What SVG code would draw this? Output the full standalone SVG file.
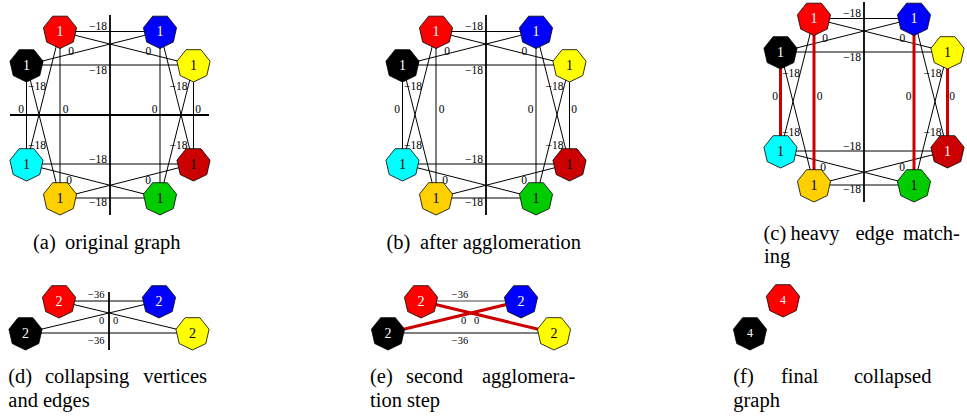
<svg xmlns="http://www.w3.org/2000/svg" xmlns:xlink="http://www.w3.org/1999/xlink" width="967" height="417" viewBox="0 0 967 417">
<style>
.e line{stroke:#000;stroke-width:1;fill:none}
.e line.ax{stroke-width:1.8}
.e line.hv{stroke:#cc0000;stroke-width:3}
.n use{stroke:#000;stroke-width:0.8}
.n text{font-family:"Liberation Serif","Times New Roman",serif;font-size:14px;text-anchor:middle}
.n text.w{fill:#fff}
.n text.k{fill:#000}
.n text.s{font-size:12px}
.lb text{font-family:"Liberation Serif","Times New Roman",serif;font-size:11.5px;fill:#000}
.lb text.m{text-anchor:middle}
.lb text.r{text-anchor:end}
.lb text.d{font-size:10.5px}
.cap{font-family:"Liberation Serif","Times New Roman",serif;font-size:20.5px;fill:#000}
</style>
<defs>
<polygon id="hept" points="0,17 -13.29,10.6 -16.57,-3.78 -7.38,-15.32 7.38,-15.32 16.57,-3.78 13.29,10.6"/>
</defs>

<!-- Panel (a) -->
<g id="panel-a">
<g id="edges-a" class="e">
<line class="ax" x1="110" y1="15" x2="110" y2="215"/>
<line class="ax" x1="10" y1="115" x2="209" y2="115"/>
<line x1="60" y1="31.5" x2="160" y2="31.5"/>
<line x1="26.5" y1="65" x2="193.5" y2="65"/>
<line x1="26.5" y1="164" x2="193.5" y2="164"/>
<line x1="60" y1="198" x2="160" y2="198"/>
<line x1="60" y1="31.5" x2="193.5" y2="65"/>
<line x1="160" y1="31.5" x2="26.5" y2="65"/>
<line x1="26.5" y1="164" x2="160" y2="198"/>
<line x1="60" y1="198" x2="193.5" y2="164"/>
<line x1="26.5" y1="65" x2="26.5" y2="164"/>
<line x1="60" y1="31.5" x2="60" y2="198"/>
<line x1="160" y1="31.5" x2="160" y2="198"/>
<line x1="193.5" y1="65" x2="193.5" y2="164"/>
<line x1="60" y1="31.5" x2="26.5" y2="164"/>
<line x1="26.5" y1="65" x2="60" y2="198"/>
<line x1="160" y1="31.5" x2="193.5" y2="164"/>
<line x1="193.5" y1="65" x2="160" y2="198"/>
</g>
<g id="labels-a" class="lb">
<text class="r" x="107" y="30">−18</text>
<text class="r" x="107" y="74">−18</text>
<text class="r" x="107" y="163">−18</text>
<text class="r" x="107" y="206">−18</text>
<text x="28" y="90">−18</text>
<text x="28" y="149">−18</text>
<text x="169.5" y="90">−18</text>
<text x="169.5" y="149">−18</text>
<text class="m" x="71" y="55">0</text>
<text class="m" x="148.3" y="55">0</text>
<text class="m" x="69" y="184">0</text>
<text class="m" x="148" y="184">0</text>
<text class="m" x="21" y="113">0</text>
<text class="m" x="65.5" y="113">0</text>
<text class="m" x="154.5" y="113">0</text>
<text class="m" x="198" y="113">0</text>
</g>
<g id="a-red" class="n"><use xlink:href="#hept" href="#hept" x="60" y="31.5" fill="#ff0000"/><text class="w" x="60" y="36.2">1</text></g>
<g id="a-blue" class="n"><use xlink:href="#hept" href="#hept" x="160" y="31.5" fill="#0000ff"/><text class="w" x="160" y="36.2">1</text></g>
<g id="a-black" class="n"><use xlink:href="#hept" href="#hept" x="26.5" y="65" fill="#000000"/><text class="w" x="26.5" y="69.7">1</text></g>
<g id="a-yellow" class="n"><use xlink:href="#hept" href="#hept" x="193.5" y="65" fill="#ffff00"/><text class="k" x="193.5" y="69.7">1</text></g>
<g id="a-cyan" class="n"><use xlink:href="#hept" href="#hept" x="26.5" y="164" fill="#00ffff"/><text class="k" x="26.5" y="168.7">1</text></g>
<g id="a-darkred" class="n"><use xlink:href="#hept" href="#hept" x="193.5" y="164" fill="#cc0000"/><text class="k" x="193.5" y="168.7">1</text></g>
<g id="a-gold" class="n"><use xlink:href="#hept" href="#hept" x="60" y="198" fill="#ffd000"/><text class="k" x="60" y="202.7">1</text></g>
<g id="a-green" class="n"><use xlink:href="#hept" href="#hept" x="160" y="198" fill="#00cc00"/><text class="k" x="160" y="202.7">1</text></g>
</g>

<!-- Panel (b) -->
<g id="panel-b" transform="translate(376,0)">
<g id="edges-b" class="e">
<line class="ax" x1="110" y1="15" x2="110" y2="215"/>
<line x1="60" y1="31.5" x2="160" y2="31.5"/>
<line x1="26.5" y1="65" x2="193.5" y2="65"/>
<line x1="26.5" y1="164" x2="193.5" y2="164"/>
<line x1="60" y1="198" x2="160" y2="198"/>
<line x1="60" y1="31.5" x2="193.5" y2="65"/>
<line x1="160" y1="31.5" x2="26.5" y2="65"/>
<line x1="26.5" y1="164" x2="160" y2="198"/>
<line x1="60" y1="198" x2="193.5" y2="164"/>
<line x1="26.5" y1="65" x2="26.5" y2="164"/>
<line x1="60" y1="31.5" x2="60" y2="198"/>
<line x1="160" y1="31.5" x2="160" y2="198"/>
<line x1="193.5" y1="65" x2="193.5" y2="164"/>
<line x1="60" y1="31.5" x2="26.5" y2="164"/>
<line x1="26.5" y1="65" x2="60" y2="198"/>
<line x1="160" y1="31.5" x2="193.5" y2="164"/>
<line x1="193.5" y1="65" x2="160" y2="198"/>
</g>
<g id="labels-b" class="lb">
<text class="r" x="107" y="30">−18</text>
<text class="r" x="107" y="74">−18</text>
<text class="r" x="107" y="163">−18</text>
<text class="r" x="107" y="206">−18</text>
<text x="28" y="90">−18</text>
<text x="28" y="149">−18</text>
<text x="169.5" y="90">−18</text>
<text x="169.5" y="149">−18</text>
<text class="m" x="71" y="55">0</text>
<text class="m" x="148.3" y="55">0</text>
<text class="m" x="69" y="184">0</text>
<text class="m" x="148" y="184">0</text>
<text class="m" x="21" y="113">0</text>
<text class="m" x="65.5" y="113">0</text>
<text class="m" x="154.5" y="113">0</text>
<text class="m" x="198" y="113">0</text>
</g>
<g id="b-red" class="n"><use xlink:href="#hept" href="#hept" x="60" y="31.5" fill="#ff0000"/><text class="w" x="60" y="36.2">1</text></g>
<g id="b-blue" class="n"><use xlink:href="#hept" href="#hept" x="160" y="31.5" fill="#0000ff"/><text class="w" x="160" y="36.2">1</text></g>
<g id="b-black" class="n"><use xlink:href="#hept" href="#hept" x="26.5" y="65" fill="#000000"/><text class="w" x="26.5" y="69.7">1</text></g>
<g id="b-yellow" class="n"><use xlink:href="#hept" href="#hept" x="193.5" y="65" fill="#ffff00"/><text class="k" x="193.5" y="69.7">1</text></g>
<g id="b-cyan" class="n"><use xlink:href="#hept" href="#hept" x="26.5" y="164" fill="#00ffff"/><text class="k" x="26.5" y="168.7">1</text></g>
<g id="b-darkred" class="n"><use xlink:href="#hept" href="#hept" x="193.5" y="164" fill="#cc0000"/><text class="k" x="193.5" y="168.7">1</text></g>
<g id="b-gold" class="n"><use xlink:href="#hept" href="#hept" x="60" y="198" fill="#ffd000"/><text class="k" x="60" y="202.7">1</text></g>
<g id="b-green" class="n"><use xlink:href="#hept" href="#hept" x="160" y="198" fill="#00cc00"/><text class="k" x="160" y="202.7">1</text></g>
</g>

<!-- Panel (c) -->
<g id="panel-c" transform="translate(754,-13)">
<g id="edges-c" class="e">
<line class="ax" x1="110" y1="15" x2="110" y2="215"/>
<line x1="60" y1="31.5" x2="160" y2="31.5"/>
<line x1="26.5" y1="65" x2="193.5" y2="65"/>
<line x1="26.5" y1="164" x2="193.5" y2="164"/>
<line x1="60" y1="198" x2="160" y2="198"/>
<line x1="60" y1="31.5" x2="193.5" y2="65"/>
<line x1="160" y1="31.5" x2="26.5" y2="65"/>
<line x1="26.5" y1="164" x2="160" y2="198"/>
<line x1="60" y1="198" x2="193.5" y2="164"/>
<line x1="60" y1="31.5" x2="26.5" y2="164"/>
<line x1="26.5" y1="65" x2="60" y2="198"/>
<line x1="160" y1="31.5" x2="193.5" y2="164"/>
<line x1="193.5" y1="65" x2="160" y2="198"/>
<line class="hv" x1="26.5" y1="65" x2="26.5" y2="164"/>
<line class="hv" x1="60" y1="31.5" x2="60" y2="198"/>
<line class="hv" x1="160" y1="31.5" x2="160" y2="198"/>
<line class="hv" x1="193.5" y1="65" x2="193.5" y2="164"/>
</g>
<g id="labels-c" class="lb">
<text class="r" x="107" y="30">−18</text>
<text class="r" x="107" y="74">−18</text>
<text class="r" x="107" y="163">−18</text>
<text class="r" x="107" y="206">−18</text>
<text x="28" y="90">−18</text>
<text x="28" y="149">−18</text>
<text x="169.5" y="90">−18</text>
<text x="169.5" y="149">−18</text>
<text class="m" x="71" y="55">0</text>
<text class="m" x="148.3" y="55">0</text>
<text class="m" x="69" y="184">0</text>
<text class="m" x="148" y="184">0</text>
<text class="m" x="21" y="113">0</text>
<text class="m" x="65.5" y="113">0</text>
<text class="m" x="154.5" y="113">0</text>
<text class="m" x="198" y="113">0</text>
</g>
<g id="c-red" class="n"><use xlink:href="#hept" href="#hept" x="60" y="31.5" fill="#ff0000"/><text class="w" x="60" y="36.2">1</text></g>
<g id="c-blue" class="n"><use xlink:href="#hept" href="#hept" x="160" y="31.5" fill="#0000ff"/><text class="w" x="160" y="36.2">1</text></g>
<g id="c-black" class="n"><use xlink:href="#hept" href="#hept" x="26.5" y="65" fill="#000000"/><text class="w" x="26.5" y="69.7">1</text></g>
<g id="c-yellow" class="n"><use xlink:href="#hept" href="#hept" x="193.5" y="65" fill="#ffff00"/><text class="k" x="193.5" y="69.7">1</text></g>
<g id="c-cyan" class="n"><use xlink:href="#hept" href="#hept" x="26.5" y="164" fill="#00ffff"/><text class="k" x="26.5" y="168.7">1</text></g>
<g id="c-darkred" class="n"><use xlink:href="#hept" href="#hept" x="193.5" y="164" fill="#cc0000"/><text class="w" x="193.5" y="168.7">1</text></g>
<g id="c-gold" class="n"><use xlink:href="#hept" href="#hept" x="60" y="198" fill="#ffd000"/><text class="k" x="60" y="202.7">1</text></g>
<g id="c-green" class="n"><use xlink:href="#hept" href="#hept" x="160" y="198" fill="#00cc00"/><text class="k" x="160" y="202.7">1</text></g>
</g>

<!-- Panel (d) -->
<g id="panel-d">
<g id="edges-d" class="e">
<line class="ax" x1="109" y1="292" x2="109" y2="350"/>
<line x1="59" y1="301" x2="159" y2="301"/>
<line x1="25.5" y1="333" x2="192.5" y2="333"/>
<line x1="59" y1="301" x2="192.5" y2="333"/>
<line x1="159" y1="301" x2="25.5" y2="333"/>
</g>
<g id="labels-d" class="lb">
<text class="r d" x="104.5" y="298">−36</text>
<text class="r d" x="104.5" y="344">−36</text>
<text class="m d" x="101.5" y="324">0</text>
<text class="m d" x="115.5" y="324">0</text>
</g>
<g id="d-red" class="n"><use xlink:href="#hept" href="#hept" x="59" y="301" fill="#ff0000"/><text class="w" x="59" y="305.7">2</text></g>
<g id="d-blue" class="n"><use xlink:href="#hept" href="#hept" x="159" y="301" fill="#0000ff"/><text class="w" x="159" y="305.7">2</text></g>
<g id="d-black" class="n"><use xlink:href="#hept" href="#hept" x="25.5" y="333" fill="#000000"/><text class="w" x="25.5" y="337.7">2</text></g>
<g id="d-yellow" class="n"><use xlink:href="#hept" href="#hept" x="192.5" y="333" fill="#ffff00"/><text class="k" x="192.5" y="337.7">2</text></g>
</g>

<!-- Panel (e) -->
<g id="panel-e">
<g id="edges-e" class="e">
<line x1="421" y1="301" x2="521" y2="301" style="stroke:#444"/>
<line x1="388" y1="333" x2="554" y2="333"/>
<line class="hv" x1="421" y1="301" x2="554" y2="333"/>
<line class="hv" x1="521" y1="301" x2="388" y2="333"/>
</g>
<g id="labels-e" class="lb">
<text class="m d" x="460" y="298">−36</text>
<text class="m d" x="460" y="344">−36</text>
<text class="m d" x="463.5" y="324">0</text>
<text class="m d" x="476.5" y="324">0</text>
</g>
<g id="e-red" class="n"><use xlink:href="#hept" href="#hept" x="421" y="301" fill="#ff0000"/><text class="w" x="421" y="305.7">2</text></g>
<g id="e-blue" class="n"><use xlink:href="#hept" href="#hept" x="521" y="301" fill="#0000ff"/><text class="w" x="521" y="305.7">2</text></g>
<g id="e-black" class="n"><use xlink:href="#hept" href="#hept" x="388" y="333" fill="#000000"/><text class="w" x="388" y="337.7">2</text></g>
<g id="e-yellow" class="n"><use xlink:href="#hept" href="#hept" x="554" y="333" fill="#ffff00"/><text class="k" x="554" y="337.7">2</text></g>
</g>

<!-- Panel (f) -->
<g id="panel-f">
<g id="f-red" class="n"><use xlink:href="#hept" href="#hept" x="783" y="300" fill="#ff0000"/><text class="w s" x="783" y="304.2">4</text></g>
<g id="f-black" class="n"><use xlink:href="#hept" href="#hept" x="750" y="333" fill="#000000"/><text class="w s" x="750" y="337.2">4</text></g>
</g>

<!-- Captions -->
<g id="captions">
<text class="cap" y="248.5"><tspan x="33">(a)</tspan><tspan x="65">original graph</tspan></text>
<text class="cap" y="248.5"><tspan x="386.5">(b)</tspan><tspan x="420">after agglomeration</tspan></text>
<text class="cap" y="240"><tspan x="763.5">(c)</tspan><tspan x="790.5">heavy</tspan><tspan x="855.5">edge</tspan><tspan x="903">match-</tspan></text>
<text class="cap" x="764" y="263">ing</text>
<text class="cap" y="382.5"><tspan x="8.3">(d)</tspan><tspan x="45">collapsing</tspan><tspan x="143.3">vertices</tspan></text>
<text class="cap" x="8.3" y="406.5">and edges</text>
<text class="cap" y="382.5"><tspan x="370">(e)</tspan><tspan x="406">second</tspan><tspan x="482">agglomera-</tspan></text>
<text class="cap" x="370" y="406.5">tion step</text>
<text class="cap" y="382.5"><tspan x="733.3">(f)</tspan><tspan x="781">final</tspan><tspan x="854">collapsed</tspan></text>
<text class="cap" x="733.3" y="406.5">graph</text>
</g>
</svg>
